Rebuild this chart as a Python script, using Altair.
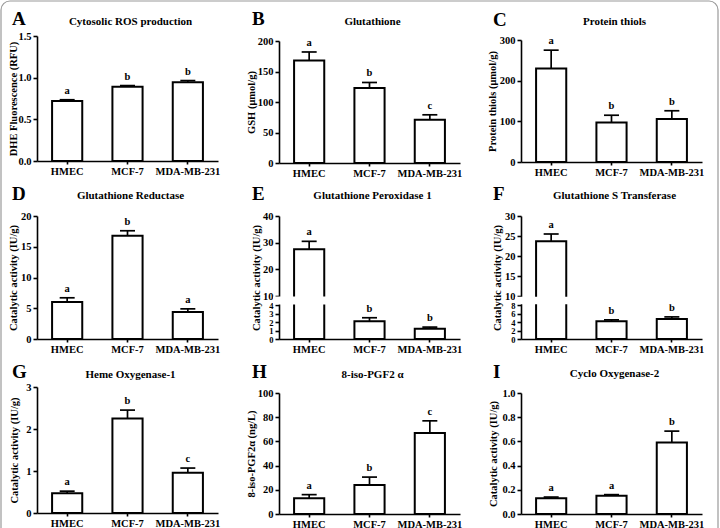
import altair as alt
import pandas as pd

categories = ["HMEC", "MCF-7", "MDA-MB-231"]

# A  Cytosolic ROS production
ros_mean = [0.72, 0.89, 0.945]
ros_err = [0.015, 0.015, 0.02]
ros_sig = ["a", "b", "b"]
# B  Glutathione
gsh_mean = [168, 123, 71]
gsh_err = [14, 9, 8]
gsh_sig = ["a", "b", "c"]
# C  Protein thiols
thiol_mean = [230, 97, 106]
thiol_err = [45, 18, 20]
thiol_sig = ["a", "b", "b"]
# D  Glutathione Reductase
gr_mean = [6.0, 16.8, 4.4]
gr_err = [0.7, 0.8, 0.5]
gr_sig = ["a", "b", "a"]
# E  Glutathione Peroxidase 1
gpx_mean = [27.5, 2.1, 1.2]
gpx_err = [3.0, 0.4, 0.2]
gpx_sig = ["a", "b", "b"]
# F  Glutathione S Transferase
gst_mean = [23.7, 4.2, 4.7]
gst_err = [1.8, 0.3, 0.5]
gst_sig = ["a", "b", "b"]
# G  Heme Oxygenase-1
ho_mean = [0.47, 2.25, 0.96]
ho_err = [0.05, 0.2, 0.11]
ho_sig = ["a", "b", "c"]
# H  8-iso-PGF2a
iso_mean = [13, 24, 67]
iso_err = [3, 6.5, 10]
iso_sig = ["a", "b", "c"]
# I  Cyclo Oxygenase-2
cox_mean = [0.13, 0.15, 0.59]
cox_err = [0.01, 0.01, 0.095]
cox_sig = ["a", "a", "b"]

ticks_A = [0.0, 0.5, 1.0, 1.5]
ticks_B = [0, 50, 100, 150, 200]
ticks_C = [0, 100, 200, 300]
ticks_D = [0, 5, 10, 15, 20]
ticks_E = [0, 1, 2, 3, 4, 10, 20, 30, 40]
ticks_F = [0, 2, 4, 6, 8, 10, 15, 20, 25, 30]
ticks_G = [0, 1, 2, 3]
ticks_H = [0, 20, 40, 60, 80, 100]
ticks_I = [0.0, 0.2, 0.4, 0.6, 0.8, 1.0]

FONT = "Liberation Serif"
W = 181
COL_X = [37, 279, 521]          # y-axis position of each column
ROW_TOP = [36, 211, 387]        # top of each grid row
ROW_H = [127, 128, 127]         # height of each grid row


def make_panel(col, row, letter, title, ytitle, mean, err, sig, ticks, fmt, domain,
               top, bottom, brk=None, gap=None, small_below=None, ytitle_x=13,
               letter_xy=(12, 25), title_y=22, frame=False):
    x0 = COL_X[col]
    r0 = ROW_TOP[row]
    H = ROW_H[row]
    t = top - r0
    b = bottom - r0
    if brk is None:
        rng = [b, t]
    else:
        rng = [b, t + brk[0], t + brk[1], t]
    upper = [m + e for m, e in zip(mean, err)]
    df = pd.DataFrame({"cat": categories, "mean": mean, "upper": upper, "sig": sig})
    yscale = alt.Scale(domain=domain, range=rng, nice=False, zero=False)
    lab_size = 10.5
    if small_below is not None:
        lab_size = {"condition": {"test": f"datum.value <= {small_below}", "value": 8.5},
                    "value": 10.5}
    yaxis = alt.Axis(values=ticks, format=fmt, title=ytitle, titleX=ytitle_x - x0,
                     titleY=(t + b) / 2, titleBaseline="middle", labelOverlap=False,
                     labelFontSize=lab_size)
    X = alt.X("cat:N", sort=categories,
              scale=alt.Scale(paddingInner=0.5, paddingOuter=0.25),
              axis=alt.Axis(title=None, labelAngle=0, labelPadding=2, tickSize=3,
                            offset=b - H))
    base = alt.Chart(df)
    bars = base.mark_bar(fill="white", stroke="black", strokeWidth=2).encode(
        x=X, y=alt.Y("mean:Q", scale=yscale, axis=yaxis))
    rule = base.mark_rule(color="black", strokeWidth=1.7).encode(
        x=X, y=alt.Y("mean:Q", scale=yscale, axis=yaxis), y2="upper:Q")
    cap = base.mark_tick(color="black", thickness=1.7, size=15, opacity=1).encode(
        x=X, y=alt.Y("upper:Q", scale=yscale, axis=yaxis))
    sigt = base.mark_text(font=FONT, fontWeight="bold", fontSize=10.5, baseline="bottom",
                          dy=-4, color="black").encode(
        x=X, y=alt.Y("upper:Q", scale=yscale, axis=yaxis), text="sig:N")
    layers = [bars, rule, cap, sigt]
    if gap is not None:
        gdf = pd.DataFrame({"g1": [gap[0]], "g2": [gap[1]]})
        layers.append(alt.Chart(gdf).mark_rect(fill="white").encode(
            x=alt.value(-6), x2=alt.value(W + 3),
            y=alt.Y("g1:Q", scale=yscale, axis=yaxis), y2="g2:Q"))
    ldf = pd.DataFrame({"t": [letter]})
    layers.append(alt.Chart(ldf).mark_text(font=FONT, fontWeight="bold", fontSize=19,
                                           align="left", baseline="alphabetic",
                                           color="black").encode(
        x=alt.value(letter_xy[0] - x0), y=alt.value(letter_xy[1] - r0), text="t:N"))
    tdf = pd.DataFrame({"t": [title]})
    layers.append(alt.Chart(tdf).mark_text(font=FONT, fontWeight="bold", fontSize=11,
                                           align="center", baseline="middle",
                                           color="black").encode(
        x=alt.value(W / 2 + 3), y=alt.value(title_y - r0), text="t:N"))
    if frame:
        fdf = pd.DataFrame({"t": [0]})
        layers.append(alt.Chart(fdf).mark_rect(fill="white", fillOpacity=0, stroke="#9a9a9a",
                                               strokeWidth=1.2, cornerRadius=9).encode(
            x=alt.value(1 - x0), x2=alt.value(718 - x0),
            y=alt.value(1 - r0), y2=alt.value(560 - r0)))
    return alt.layer(*layers).properties(width=W, height=H)


pA = make_panel(0, 0, "A", "Cytosolic ROS production", "DHE Fluorescence (RFU)", ros_mean,
                ros_err, ros_sig, ticks_A, ".1f", [0, 1.5], 36, 161, ytitle_x=13,
                letter_xy=(12, 25), title_y=22, frame=True)
pB = make_panel(1, 0, "B", "Glutathione", "GSH (μmol/g)", gsh_mean, gsh_err, gsh_sig,
                ticks_B, "d", [0, 200], 41, 163, ytitle_x=251, letter_xy=(252, 25),
                title_y=22)
pC = make_panel(2, 0, "C", "Protein thiols", "Protein thiols (μmol/g)", thiol_mean,
                thiol_err, thiol_sig, ticks_C, "d", [0, 300], 40, 162, ytitle_x=492,
                letter_xy=(493, 26), title_y=22)
pD = make_panel(0, 1, "D", "Glutathione Reductase", "Catalytic activity (IU/g)", gr_mean,
                gr_err, gr_sig, ticks_D, "d", [0, 20], 216, 339, ytitle_x=13,
                letter_xy=(12, 200), title_y=196)
pE = make_panel(1, 1, "E", "Glutathione Peroxidase 1", "Catalytic activity (IU/g)", gpx_mean,
                gpx_err, gpx_sig, ticks_E, "d", [0, 4, 10, 40], 216, 339, brk=(89, 80),
                gap=(4.35, 9.65), small_below=4, ytitle_x=256, letter_xy=(252, 200),
                title_y=196)
pF = make_panel(2, 1, "F", "Glutathione S Transferase", "Catalytic activity (IU/g)", gst_mean,
                gst_err, gst_sig, ticks_F, "d", [0, 8, 10, 30], 216, 339, brk=(89, 80),
                gap=(8.15, 9.85), small_below=8, ytitle_x=497, letter_xy=(493, 200),
                title_y=196)
pG = make_panel(0, 2, "G", "Heme Oxygenase-1", "Catalytic activity (IU/g)", ho_mean, ho_err,
                ho_sig, ticks_G, "d", [0, 3], 387, 513, ytitle_x=14, letter_xy=(12, 378),
                title_y=375)
pH = make_panel(1, 2, "H", "8-iso-PGF2 α", "8-iso-PGF2α (ng/L)", iso_mean, iso_err, iso_sig,
                ticks_H, "d", [0, 100], 393, 514, ytitle_x=251, letter_xy=(252, 378),
                title_y=375)
pI = make_panel(2, 2, "I", "Cyclo Oxygenase-2", "Catalytic activity (IU/g)", cox_mean, cox_err,
                cox_sig, ticks_I, ".1f", [0, 1.0], 393, 514, ytitle_x=493,
                letter_xy=(493, 378), title_y=374)

chart = alt.concat(pA, pB, pC, pD, pE, pF, pG, pH, pI, columns=3,
                   spacing={"row": 48, "column": 61}, bounds="flush").properties(
    padding=0, background="white"
).configure_view(strokeOpacity=0).configure_axis(
    domainColor="black", domainWidth=1.6, tickColor="black", tickWidth=1.6, tickSize=4,
    labelFont=FONT, labelFontWeight="bold", labelFontSize=10.5, labelColor="black",
    labelPadding=2, titleFont=FONT, titleFontWeight="bold", titleFontSize=10.5,
    titleColor="black", grid=False
)

chart.save("out.html", embed_options={"renderer": "svg", "actions": False})
